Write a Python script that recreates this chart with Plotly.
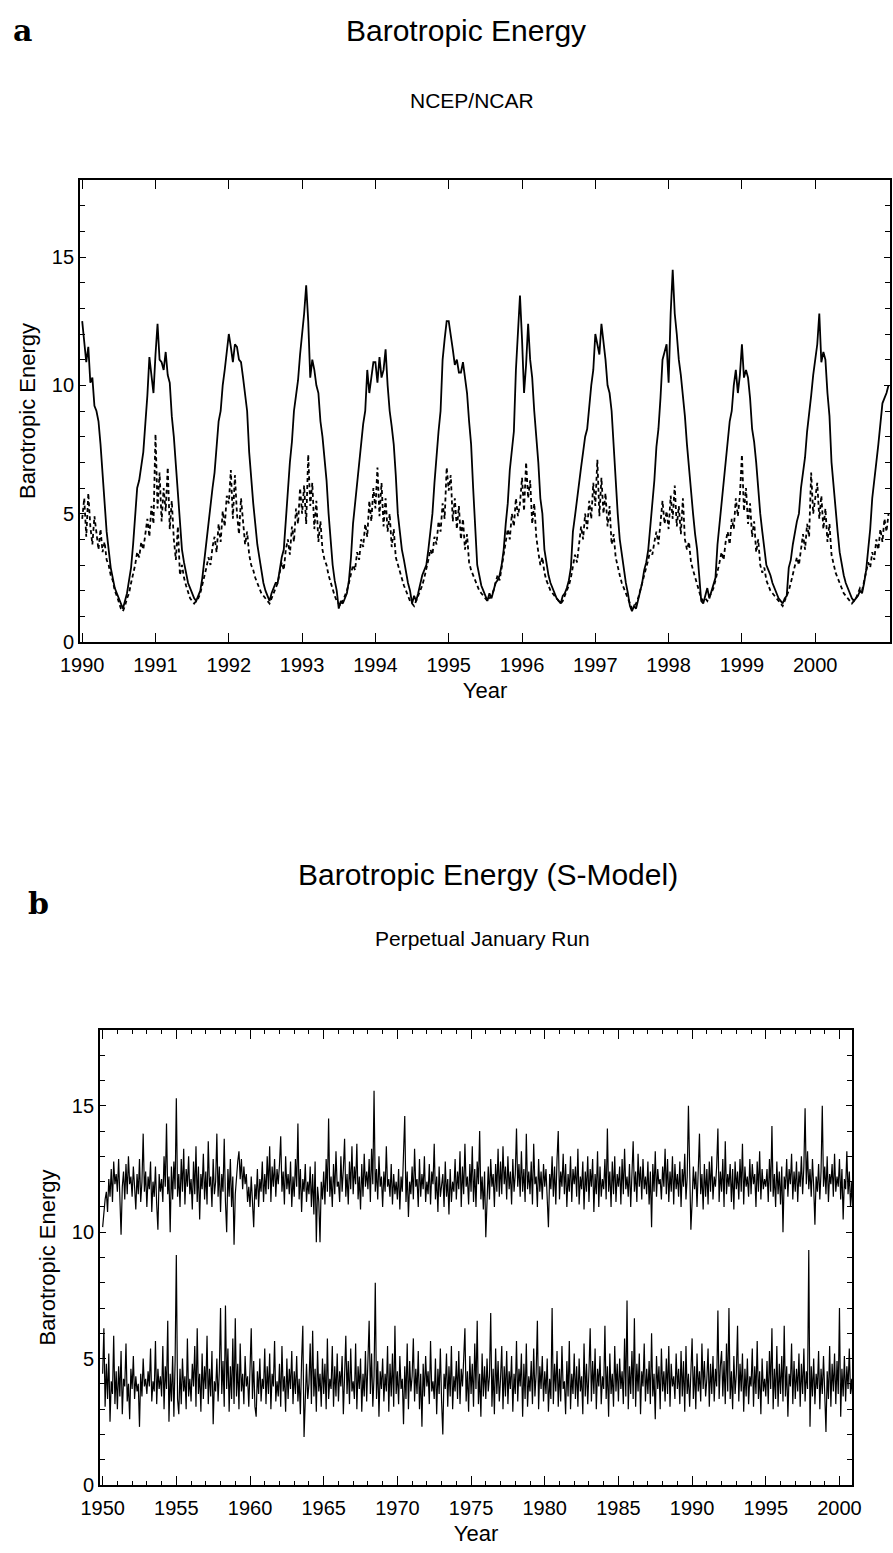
import numpy as np
import plotly.graph_objects as go

# ---------------- Panel a : NCEP/NCAR, 1990-2001, 36 samples per year ----------------
a_start_year = 1990
a_steps_per_year = 36
a_solid = [
 # 1990
 12.5,11.6,10.9,11.5,10.1,10.3,9.2,9.0,8.6,7.7,6.6,5.3,4.3,3.6,2.9,2.5,2.1,1.9,1.7,1.5,1.3,1.6,1.9,2.4,2.9,3.8,5.0,6.0,6.3,6.9,7.4,8.5,9.6,11.1,10.4,9.7,
 # 1991
 11.2,12.4,11.0,10.9,10.6,11.3,10.4,10.1,8.8,8.0,6.9,5.8,5.0,3.6,3.1,2.7,2.3,2.1,1.9,1.7,1.6,1.8,2.0,2.5,3.2,4.0,4.8,5.3,6.0,6.6,7.5,8.6,9.0,10.0,10.6,11.3,
 # 1992
 12.0,11.5,10.9,11.6,11.5,11.0,10.9,10.3,9.6,9.0,7.4,6.2,5.4,4.6,3.8,3.3,2.8,2.3,2.0,1.8,1.6,1.9,2.1,2.3,2.3,2.8,3.3,3.6,4.8,6.0,7.0,7.8,9.0,9.6,10.2,11.2,
 # 1993
 12.0,12.8,13.9,12.5,10.3,11.0,10.6,10.0,9.7,8.6,8.0,7.2,6.3,5.0,3.9,3.0,2.4,2.0,1.3,1.6,1.5,1.7,1.9,2.4,3.3,4.6,5.4,6.0,7.0,7.6,8.5,9.0,10.6,9.7,10.4,10.9,
 # 1994
 10.9,10.1,11.1,10.3,10.6,11.4,10.0,9.0,8.4,7.7,6.5,5.0,4.3,3.6,3.2,2.7,2.3,2.0,1.5,1.8,1.6,1.9,2.3,2.6,2.8,3.0,3.6,4.3,5.0,6.2,7.3,8.2,9.0,11.0,11.8,12.5,
 # 1995
 12.5,12.0,11.4,10.8,11.0,10.5,10.5,10.9,10.2,9.7,8.6,7.7,6.0,4.5,3.0,2.6,2.2,2.0,1.8,1.6,1.9,1.7,2.0,2.3,2.4,2.6,3.0,3.6,4.6,5.4,6.7,7.4,8.2,10.6,12.0,13.5,
 # 1996
 11.8,9.7,10.8,12.4,11.0,10.3,9.0,8.0,7.0,5.6,5.0,3.6,3.0,2.6,2.3,2.1,1.9,1.7,1.6,1.5,1.8,1.9,2.1,2.4,2.9,4.3,4.9,5.6,6.3,6.8,7.4,8.0,8.3,9.2,10.0,10.6,
 # 1997
 12.0,11.6,11.2,12.4,11.8,11.0,10.0,9.7,9.0,7.6,6.3,5.0,4.0,3.4,2.8,2.3,1.9,1.4,1.2,1.4,1.3,1.6,1.9,2.3,2.8,3.1,3.6,4.5,5.5,6.3,7.6,8.3,9.5,11.0,11.3,11.6,
 # 1998
 10.1,12.8,14.5,12.8,12.0,11.0,10.4,9.7,8.8,7.7,6.8,5.6,5.0,4.2,3.6,2.6,1.6,1.5,1.8,2.1,1.7,2.0,2.2,2.5,3.8,4.6,5.5,6.3,7.0,7.8,8.6,9.0,10.0,10.6,9.7,10.4,
 # 1999
 11.6,10.3,10.6,10.3,9.5,8.3,7.8,7.0,5.8,5.0,4.3,3.6,3.0,2.8,2.6,2.3,2.1,1.9,1.7,1.6,1.5,1.7,1.8,2.9,3.2,3.8,4.3,4.7,5.0,6.0,6.6,7.2,8.2,8.8,9.6,10.4,
 # 2000
 11.0,11.6,12.8,10.9,11.3,11.0,9.7,8.8,7.0,6.0,5.0,4.3,3.5,3.0,2.6,2.3,2.1,1.9,1.7,1.6,1.7,1.8,2.0,1.9,2.3,2.8,3.6,4.4,5.6,6.4,7.0,7.7,8.6,9.3,9.5,9.7,
 # 2001.0
 10.0,
]
a_dashed = [
 # 1990
 4.8,5.6,4.1,5.8,4.5,3.8,4.9,4.2,3.6,4.4,3.5,3.9,3.2,3.0,2.6,2.4,2.0,1.8,1.5,1.3,1.2,1.4,1.7,1.9,2.3,2.6,3.0,3.5,3.3,3.9,3.6,4.2,4.8,4.1,5.3,4.6,
 # 1991
 8.1,5.2,6.6,4.7,6.0,5.1,6.8,4.4,5.5,4.0,3.2,4.5,2.6,3.0,2.5,2.2,1.9,1.7,1.6,1.5,1.6,1.7,1.9,2.2,2.5,2.9,3.3,3.0,3.7,4.1,3.5,4.6,3.9,5.1,4.5,5.7,
 # 1992
 5.4,6.7,4.8,6.5,5.0,4.2,5.6,4.6,3.8,4.3,3.4,3.0,2.8,2.5,2.3,2.1,1.9,1.8,1.7,1.6,1.5,1.7,1.9,2.1,2.3,2.7,3.1,2.8,3.6,4.0,3.4,4.5,3.9,5.2,4.6,6.0,
 # 1993
 5.0,6.1,4.6,7.3,5.3,6.2,4.4,5.5,3.9,4.7,3.6,3.2,3.0,2.6,2.3,2.0,1.8,1.6,1.5,1.4,1.6,1.8,2.0,2.3,2.6,3.0,2.8,3.5,3.2,4.0,3.7,4.6,4.1,5.5,4.7,6.0,
 # 1994
 5.2,6.8,4.9,6.2,4.5,5.6,4.3,5.0,3.7,4.4,3.3,3.0,2.7,2.5,2.2,2.0,1.8,1.6,1.5,1.4,1.6,1.8,2.0,2.2,2.5,2.8,3.2,3.6,3.4,4.1,3.8,4.7,4.3,5.4,4.8,6.8,
 # 1995
 5.9,6.5,4.7,5.6,4.4,5.3,4.0,4.8,3.6,4.2,3.1,2.8,2.6,2.4,2.2,2.0,1.9,1.8,1.7,1.6,1.7,1.8,2.0,2.3,2.6,2.4,2.9,3.3,3.8,4.4,4.0,5.0,4.5,5.6,4.9,5.4,
 # 1996
 6.4,5.1,7.0,5.6,6.3,4.6,5.4,4.1,3.5,3.0,3.3,2.7,2.4,2.2,2.0,1.9,1.8,1.7,1.6,1.5,1.6,1.8,2.0,2.2,2.5,2.9,3.4,3.1,3.9,4.5,4.0,5.0,4.4,5.5,4.8,6.2,
 # 1997
 5.3,7.1,4.9,6.4,5.0,5.8,4.5,5.3,3.8,4.2,3.3,2.9,2.6,2.3,2.1,1.9,1.7,1.5,1.3,1.4,1.5,1.7,2.0,2.2,2.5,2.8,3.2,3.6,3.4,3.9,4.3,3.8,4.7,5.5,4.6,5.1,
 # 1998
 4.4,5.7,4.8,6.1,4.5,5.3,4.2,5.6,4.0,3.6,3.9,3.1,2.8,2.5,2.2,2.0,1.7,1.6,1.7,1.6,1.8,1.9,2.1,2.4,2.7,3.1,3.5,3.2,3.9,4.3,3.8,4.8,4.4,5.6,4.9,5.7,
 # 1999
 7.3,5.1,6.0,4.6,5.4,4.1,4.7,3.5,4.0,3.0,2.7,2.9,2.4,2.2,2.0,1.9,1.8,1.7,1.6,1.5,1.4,1.6,1.8,2.0,2.3,2.6,2.9,3.3,3.0,3.7,4.2,3.6,4.6,4.1,6.6,5.0,
 # 2000
 5.6,6.2,4.8,5.7,4.4,5.2,3.9,4.6,3.4,3.0,2.7,2.5,2.3,2.1,1.9,1.8,1.7,1.6,1.5,1.6,1.7,1.9,2.1,2.0,2.4,2.7,3.1,2.9,3.5,3.2,4.0,3.6,4.4,3.9,4.8,4.3,
 # 2001.0
 5.0,
]
a_year_ticks = list(range(1990, 2001))

# ---------------- Panel b : S-Model perpetual January run, 1950-2001, monthly ----------------
b_start_year = 1950
b_steps_per_year = 12
b_upper = [
 10.2,10.9,11.3,11.6,10.8,12.1,11.4,12.5,11.2,12.8,11.9,12.3,
 11.6,12.9,11.0,9.9,11.8,12.4,11.3,12.7,11.5,13.0,11.9,12.2,
 11.4,12.6,11.8,10.9,12.3,11.5,12.9,11.2,12.0,13.9,11.6,12.4,
 11.0,12.2,11.7,12.8,10.8,12.0,11.4,12.6,11.1,10.1,12.3,11.6,
 12.1,11.2,13.0,11.8,14.3,11.5,12.2,10.0,12.6,11.3,12.8,11.7,
 15.3,11.4,12.3,11.0,12.9,11.6,13.3,11.1,12.5,11.8,13.0,11.5,
 12.1,10.9,12.8,11.5,13.4,11.2,12.6,10.5,12.3,11.7,13.1,11.3,
 12.4,11.1,13.6,11.8,12.2,11.0,12.9,11.5,12.0,13.9,11.4,12.6,
 10.8,12.3,11.6,13.7,11.2,10.0,12.5,11.4,12.9,11.0,12.2,9.5,
 11.5,12.4,12.8,13.2,12.1,12.9,11.7,12.6,11.9,12.3,11.2,11.8,
 11.0,12.2,10.8,10.2,11.9,11.3,12.5,11.0,12.1,11.6,12.8,11.2,
 12.3,11.5,13.0,11.7,13.4,11.2,12.6,11.8,12.9,11.4,12.5,11.9,
 12.7,13.8,11.6,12.4,11.1,13.0,11.7,12.3,11.5,12.8,11.0,12.2,
 11.4,12.9,11.8,14.3,11.3,12.5,10.8,12.1,11.6,12.7,11.2,12.0,
 11.5,12.6,11.0,12.3,10.7,12.8,9.6,11.8,11.2,9.6,12.0,11.3,
 12.4,11.1,12.9,11.6,14.5,11.4,12.2,11.0,12.7,11.5,13.2,11.8,
 12.0,11.2,13.0,11.6,12.5,13.7,11.4,12.3,11.1,12.8,11.7,13.4,
 11.5,12.6,11.9,13.5,11.3,12.2,10.9,12.7,11.4,13.1,11.8,12.4,
 11.7,12.9,11.2,13.3,11.9,15.6,11.6,12.5,11.3,13.0,11.8,12.2,
 11.0,12.4,11.6,13.4,11.8,12.1,11.4,12.7,11.1,12.3,11.5,12.0,
 11.3,12.5,10.9,12.2,11.6,12.8,14.6,11.2,12.4,10.6,12.0,11.5,
 12.6,11.3,13.3,11.8,12.1,11.0,12.9,11.4,12.3,11.7,13.0,11.2,
 12.0,11.5,12.7,11.1,12.4,11.9,13.5,11.3,12.2,10.8,12.6,11.4,
 11.8,12.3,11.0,12.8,11.4,12.1,10.7,12.5,11.2,12.0,11.6,12.9,
 11.3,12.4,11.7,13.2,11.0,12.6,11.5,13.5,11.8,12.2,11.1,12.7,
 11.6,13.4,11.2,12.5,11.0,12.8,11.9,14.0,11.3,12.2,10.9,12.4,
 9.8,11.5,12.6,11.3,12.9,11.8,12.3,11.0,12.7,11.6,13.3,11.4,
 12.8,11.5,13.4,11.9,12.6,11.3,13.0,11.7,12.4,11.1,12.9,11.6,
 12.3,14.1,11.8,12.7,11.4,13.2,11.6,12.5,11.2,13.9,11.7,12.4,
 11.5,12.8,11.1,13.5,11.9,12.2,11.0,12.9,11.6,12.4,11.3,12.7,
 11.8,12.5,11.2,10.2,12.3,11.7,13.0,11.4,12.6,11.1,12.9,14.0,
 11.3,12.4,11.8,13.1,11.5,12.7,11.0,12.3,11.6,13.0,11.2,12.5,
 11.9,12.6,11.4,13.3,11.1,12.2,11.7,12.8,10.9,12.4,11.6,13.0,
 11.2,12.5,11.8,12.9,10.8,12.3,11.5,13.2,11.0,12.6,11.4,12.1,
 11.7,12.9,11.3,14.1,11.6,12.4,11.0,12.8,11.5,13.0,11.2,12.3,
 11.8,12.6,11.1,12.9,11.5,13.3,11.7,12.2,11.4,12.7,11.0,12.5,
 13.6,11.6,12.4,11.2,13.1,11.8,12.6,11.3,12.9,11.7,12.2,11.5,
 12.8,11.1,12.4,10.2,12.7,11.6,13.2,11.4,12.5,11.9,12.1,11.3,
 12.6,11.8,13.3,11.5,12.9,11.2,12.4,11.6,13.0,11.1,12.7,11.7,
 12.3,11.4,12.8,11.0,12.5,11.8,13.1,11.3,12.2,15.0,11.5,10.1,
 11.2,12.6,11.7,12.4,11.0,12.9,13.9,11.5,12.3,10.9,12.7,11.4,
 12.5,11.1,12.8,11.6,13.0,11.3,12.2,11.8,12.6,14.1,11.2,12.4,
 11.6,12.9,11.0,13.6,11.5,12.3,11.8,12.7,11.2,12.5,10.9,12.8,
 11.7,12.4,11.3,12.9,11.6,13.5,11.1,12.6,11.8,12.2,11.4,12.9,
 11.5,12.7,11.9,12.3,11.0,12.8,11.6,13.2,11.3,12.5,11.7,12.1,
 11.8,12.5,11.2,12.9,11.6,14.2,11.4,12.3,11.0,12.8,11.5,12.4,
 11.1,12.6,10.0,12.2,11.7,12.9,11.4,12.5,11.9,13.1,11.3,12.4,
 11.6,12.8,11.2,12.4,11.8,13.0,11.5,12.6,14.9,11.9,13.2,11.7,
 12.5,11.4,12.9,11.8,10.3,12.2,11.6,12.7,11.3,12.4,15.0,11.8,
 12.6,11.5,13.0,11.2,12.3,11.9,12.7,11.4,13.1,11.6,12.2,11.8,
 12.9,11.3,12.5,10.5,12.1,11.7,13.2,11.5,12.4,11.0,12.0,10.6,
]
b_lower = [
 4.4,6.2,3.1,4.8,3.4,5.2,2.5,4.1,3.6,5.9,3.2,4.5,
 3.0,4.7,3.5,5.3,2.8,4.2,3.9,5.6,3.3,4.0,2.6,4.6,
 3.8,5.1,3.4,4.3,3.7,4.0,2.3,4.4,3.5,5.0,3.9,4.2,
 3.6,4.5,3.9,5.4,3.3,4.1,3.7,5.7,3.2,4.6,3.8,4.3,
 3.5,5.5,3.0,4.7,3.8,6.5,2.5,4.4,3.3,5.1,2.7,4.9,
 9.1,3.4,2.8,4.6,3.2,5.0,3.7,4.3,3.0,5.8,3.5,4.2,
 3.3,4.8,3.9,5.5,3.1,6.2,3.6,4.4,2.9,5.2,3.4,4.7,
 3.8,5.9,3.2,4.6,3.5,5.3,2.4,4.1,3.7,5.0,3.3,4.5,
 7.0,3.6,4.9,3.1,7.1,3.8,5.4,2.9,4.7,3.4,5.8,3.2,
 6.6,3.5,4.8,3.0,5.6,3.7,4.4,3.2,5.1,3.9,4.3,3.1,
 4.6,6.2,3.4,4.9,3.1,2.7,4.5,3.6,5.0,3.3,4.2,3.8,
 5.4,3.2,4.7,3.6,5.2,3.0,4.4,3.9,5.7,3.3,4.1,3.5,
 4.8,3.1,5.5,3.7,4.3,2.9,5.0,3.4,4.6,3.8,5.3,3.2,
 4.5,3.6,5.1,3.3,4.2,2.8,4.9,6.3,1.9,3.7,4.8,3.4,
 4.0,5.6,3.2,6.1,3.5,4.6,2.9,5.3,3.7,4.4,3.1,5.0,
 3.6,4.8,3.0,5.8,3.4,4.2,3.8,5.5,3.1,4.7,3.5,5.2,
 3.3,4.5,3.9,5.1,2.8,4.3,5.9,3.6,4.9,3.2,5.4,3.7,
 4.1,3.4,5.6,3.0,4.7,3.8,5.0,2.9,4.4,3.5,5.3,3.3,
 4.6,6.5,3.6,5.2,3.1,4.3,8.0,3.4,4.9,2.7,4.5,3.8,
 5.0,3.3,4.4,3.7,5.5,2.9,4.8,3.5,5.2,3.1,6.3,3.6,
 4.5,3.2,5.1,3.8,4.2,2.4,4.7,3.4,5.6,3.0,4.9,3.7,
 4.3,5.8,3.3,4.6,3.6,5.3,3.0,4.4,2.3,4.8,3.5,5.1,
 3.9,4.5,3.2,5.7,3.7,4.1,3.4,5.0,2.8,4.6,3.6,5.4,
 3.3,2.0,4.4,3.8,5.2,3.1,4.7,3.5,5.5,3.0,4.3,3.7,
 4.9,3.4,5.3,3.2,4.6,3.9,5.0,6.2,3.3,4.5,2.9,5.1,
 3.6,4.8,3.1,5.6,3.8,6.5,3.2,4.4,2.7,5.2,3.5,4.7,
 3.4,5.0,3.7,4.3,6.8,3.1,4.6,2.8,5.4,3.6,4.9,3.3,
 4.2,5.5,3.0,4.7,3.5,5.3,3.2,4.5,3.8,5.1,2.9,4.4,
 3.6,5.7,3.3,4.6,3.9,5.2,2.7,4.8,3.4,5.6,3.1,4.3,
 3.7,4.9,3.2,5.4,3.5,4.4,6.5,3.0,4.7,3.8,5.1,3.3,
 4.5,3.6,5.0,2.9,4.2,3.4,7.0,3.2,4.8,3.7,5.3,3.1,
 4.6,3.3,5.5,3.8,4.1,2.8,4.9,3.5,5.7,3.0,4.4,3.6,
 5.2,3.4,4.7,3.1,5.0,3.7,4.3,2.8,5.6,3.5,4.8,3.2,
 4.5,6.2,3.3,4.9,3.6,5.4,3.0,4.6,3.9,5.1,3.2,4.3,
 3.8,6.3,3.4,4.7,2.7,5.2,3.6,4.4,3.1,5.5,3.7,4.8,
 3.3,5.0,3.8,4.5,3.2,5.8,3.5,7.3,3.0,4.7,3.6,5.3,
 3.4,6.6,3.1,4.8,3.7,5.2,2.8,4.5,3.9,5.6,3.3,4.6,
 3.6,4.9,3.2,6.0,3.5,4.4,2.6,5.1,3.8,4.7,3.0,5.4,
 3.7,4.5,3.3,5.0,3.6,5.5,3.1,4.8,3.9,4.3,3.4,5.2,
 3.8,4.6,3.2,5.3,3.5,4.9,2.9,5.5,3.6,4.4,3.1,5.0,
 5.8,3.4,4.7,3.0,5.2,3.7,4.5,3.3,5.6,3.8,4.9,3.5,
 4.2,5.4,3.1,4.8,3.6,5.1,3.3,4.6,3.9,6.9,3.4,4.7,
 5.3,3.5,4.9,3.2,5.6,3.7,7.0,3.4,4.5,3.0,5.1,3.6,
 4.4,6.3,3.3,4.8,3.7,5.2,2.9,4.6,3.5,5.0,3.2,4.3,
 3.9,5.4,3.1,4.7,3.6,5.7,3.4,4.5,2.8,5.0,3.7,4.2,
 3.5,4.9,3.2,5.3,3.8,6.2,3.0,4.6,3.4,5.5,3.1,4.8,
 3.6,5.1,3.3,6.3,3.5,4.7,2.7,4.4,3.9,5.6,3.2,4.9,
 3.4,4.6,3.7,5.2,3.1,4.8,3.6,5.4,3.3,4.5,3.8,9.3,
 2.3,4.7,3.5,5.0,3.2,4.4,3.8,5.3,3.0,4.6,3.6,5.1,
 3.3,2.1,4.5,3.4,5.5,3.1,4.8,3.7,5.2,3.2,4.9,3.6,
 7.0,2.7,4.6,3.5,5.1,3.3,4.7,3.8,5.4,3.6,4.2,3.2,
]
b_year_ticks = list(range(1950, 2001, 5))
y_tick_vals = [0, 5, 10, 15]

a_x = a_start_year + np.arange(len(a_solid)) / a_steps_per_year
b_x = b_start_year + np.arange(len(b_upper)) / b_steps_per_year

W, H = 893, 1553
def px(x):
    return x / W
def py(y):
    return 1 - y / H

FONT = "Liberation Sans, Arial, Helvetica, sans-serif"
SERIF = "DejaVu Serif, Liberation Serif, serif"

fig = go.Figure()
fig.add_trace(go.Scatter(x=a_x, y=a_solid, mode="lines", xaxis="x", yaxis="y",
                         line=dict(color="black", width=1.8), showlegend=False))
fig.add_trace(go.Scatter(x=a_x, y=a_dashed, mode="lines", xaxis="x", yaxis="y",
                         line=dict(color="black", width=1.8, dash="4px,3px"), showlegend=False))
fig.add_trace(go.Scatter(x=b_x, y=b_upper, mode="lines", xaxis="x2", yaxis="y2",
                         line=dict(color="black", width=1.2), showlegend=False))
fig.add_trace(go.Scatter(x=b_x, y=b_lower, mode="lines", xaxis="x2", yaxis="y2",
                         line=dict(color="black", width=1.2), showlegend=False))

axis_common = dict(showline=True, linecolor="black", linewidth=1.8, mirror="ticks",
                   ticks="inside", tickcolor="black", showgrid=False, zeroline=False,
                   automargin=False,
                   tickfont=dict(family=FONT, size=20, color="black"))

fig.update_layout(
    width=W, height=H, margin=dict(l=0, r=0, t=0, b=0, autoexpand=False),
    paper_bgcolor="white", plot_bgcolor="white",
    xaxis=dict(domain=[px(80), px(890)], range=[1989.97, 2001.02], anchor="y",
               tickvals=a_year_ticks, ticklen=9, tickwidth=1.3, ticklabelstandoff=4,
               title=dict(text="Year", font=dict(family=FONT, size=22, color="black"), standoff=8),
               **axis_common),
    yaxis=dict(domain=[py(642), py(180)], range=[0, 18], anchor="x",
               tickvals=y_tick_vals, ticklen=6, tickwidth=1.3,
               minor=dict(dtick=1, ticklen=5, tickcolor="black", ticks="inside"),
               title=dict(text="Barotropic Energy", font=dict(family=FONT, size=22, color="black"), standoff=10),
               **axis_common),
    xaxis2=dict(domain=[px(100), px(852)], range=[1949.82, 2000.85], anchor="y2",
                tickvals=b_year_ticks, ticklen=9, tickwidth=1.3, ticklabelstandoff=4,
                minor=dict(dtick=1, ticklen=4, tickcolor="black", ticks="inside"),
                title=dict(text="Year", font=dict(family=FONT, size=22, color="black"), standoff=8),
                **axis_common),
    yaxis2=dict(domain=[py(1485), py(1030)], range=[0, 18], anchor="x2",
                tickvals=y_tick_vals, ticklen=6, tickwidth=1.3,
                minor=dict(dtick=1, ticklen=5, tickcolor="black", ticks="inside"),
                title=dict(text="Barotropic Energy", font=dict(family=FONT, size=22, color="black"), standoff=10),
                **axis_common),
)

annots = [
    dict(text="<b>a</b>", x=px(22), y=py(30), font=dict(family=SERIF, size=30, color="black")),
    dict(text="Barotropic Energy", x=px(466), y=py(30), font=dict(family=FONT, size=30, color="black")),
    dict(text="NCEP/NCAR", x=px(472), y=py(100), font=dict(family=FONT, size=21, color="black")),
    dict(text="<b>b</b>", x=px(38), y=py(903), font=dict(family=SERIF, size=30, color="black")),
    dict(text="Barotropic Energy (S-Model)", x=px(488), y=py(874), font=dict(family=FONT, size=30, color="black")),
    dict(text="Perpetual January Run", x=px(482), y=py(938), font=dict(family=FONT, size=21, color="black")),
]
for a in annots:
    fig.add_annotation(xref="paper", yref="paper", showarrow=False,
                       xanchor="center", yanchor="middle", **a)

fig.write_html("out.html")
